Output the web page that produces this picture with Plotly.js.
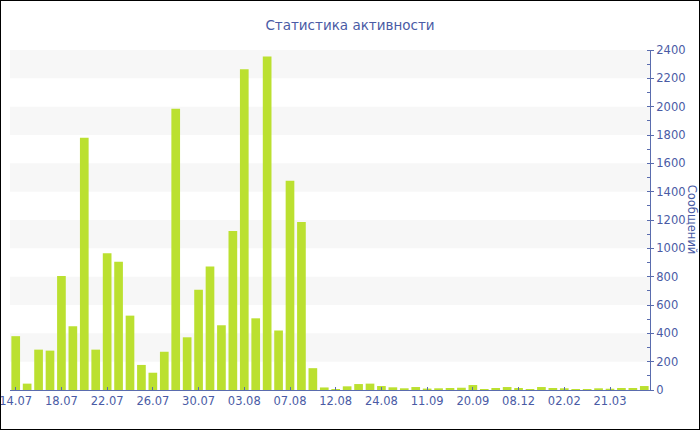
<!DOCTYPE html>
<html>
<head>
<meta charset="utf-8">
<script src="https://cdn.plot.ly/plotly-3.0.1.min.js"></script>
<style>
  html, body { margin: 0; padding: 0; background: #fff; }
  #wrap { position: relative; width: 700px; height: 430px; }
  #chart { position: absolute; left: 0; top: 0; width: 700px; height: 430px; }
  #frame { position: absolute; left: 0; top: 0; width: 700px; height: 430px; box-sizing: border-box; border: 1px solid #000; pointer-events: none; }
</style>
</head>
<body>
<div id="wrap"><div id="chart"></div><div id="frame"></div></div>
<script>
// Categories (dates) and message counts
const dates = [
  "14.07","15.07","16.07","17.07","18.07","19.07","20.07","21.07","22.07","23.07",
  "24.07","25.07","26.07","27.07","28.07","29.07","30.07","31.07","01.08","02.08",
  "03.08","04.08","05.08","06.08","07.08","08.08","09.08","10.08","12.08","15.08",
  "18.08","21.08","24.08","28.08","01.09","06.09","11.09","14.09","16.09","18.09",
  "20.09","05.10","27.10","17.11","08.12","25.12","05.01","19.01","02.02","14.02",
  "26.02","09.03","21.03","02.04","15.04","28.04"
];
const messages = [
  380, 45, 285, 278, 805, 450, 1780, 285, 965, 905,
  525, 177, 122, 270, 1985, 372, 708, 872, 457, 1122,
  2265, 506, 2355, 420, 1477, 1186, 154, 18, 7, 26,
  42, 45, 28, 19, 12, 21, 10, 12, 14, 16,
  35, 7, 14, 21, 14, 7, 21, 14, 12, 7,
  7, 12, 9, 14, 14, 28
];
const yTicks = [0,200,400,600,800,1000,1200,1400,1600,1800,2000,2200,2400];
const titleText = "Статистика активности";
const yTitleText = "Сообщений";

const blueText = "#4a5ba5";
const axisBlue = "#5a6cae";
const barColor = "#bbe030";
const bandColor = "#f7f7f7";

// alternate grid bands between every other pair of y ticks
const bands = [];
for (let i = 1; i + 1 < yTicks.length; i += 2) {
  bands.push({
    type: "rect", xref: "paper", yref: "y", x0: 0, x1: 1,
    y0: yTicks[i], y1: yTicks[i + 1],
    fillcolor: bandColor, line: { width: 0 }, layer: "below"
  });
}

const xTickVals = dates.filter((d, i) => i % 4 === 0);

const trace = {
  type: "bar",
  x: dates,
  y: messages,
  marker: { color: barColor, line: { width: 0 } },
  hoverinfo: "x+y"
};

const layout = {
  width: 700, height: 430,
  margin: { l: 10, r: 50, t: 50, b: 40 },
  paper_bgcolor: "#ffffff",
  plot_bgcolor: "rgba(0,0,0,0)",
  showlegend: false,
  bargap: 0.24,
  font: { family: "DejaVu Sans, Verdana, sans-serif", color: blueText, size: 11.5 },
  title: {
    text: titleText,
    font: { family: "DejaVu Sans, Verdana, sans-serif", size: 13.5, color: blueText },
    x: 0.5, xref: "container", xanchor: "center",
    y: 1 - 25 / 430, yref: "container", yanchor: "middle"
  },
  xaxis: {
    type: "category",
    range: [-0.5, dates.length - 0.5],
    tickmode: "array",
    tickvals: xTickVals,
    ticktext: xTickVals,
    ticks: "inside", ticklen: 3, tickcolor: axisBlue,
    showline: true, linecolor: axisBlue, linewidth: 1,
    showgrid: false, zeroline: false,
    tickangle: 0,
    tickfont: { size: 11.5, color: blueText }
  },
  yaxis: {
    side: "right",
    range: [0, 2400],
    tickmode: "array",
    tickvals: yTicks,
    ticks: "outside", ticklen: 3, tickcolor: axisBlue,
    minor: { dtick: 100, ticks: "inside", ticklen: 3, tickcolor: axisBlue, showgrid: false },
    showline: true, linecolor: axisBlue, linewidth: 1,
    showgrid: false, zeroline: false,
    tickfont: { size: 11.5, color: blueText }
  },
  shapes: bands,
  annotations: [{
    text: yTitleText, xref: "paper", yref: "paper",
    x: 1.066, y: 0.5, xanchor: "center", yanchor: "middle",
    textangle: 90, showarrow: false,
    font: { size: 11.5, color: blueText }
  }]
};

Plotly.newPlot("chart", [trace], layout, { displayModeBar: false, staticPlot: true });
</script>
</body>
</html>
